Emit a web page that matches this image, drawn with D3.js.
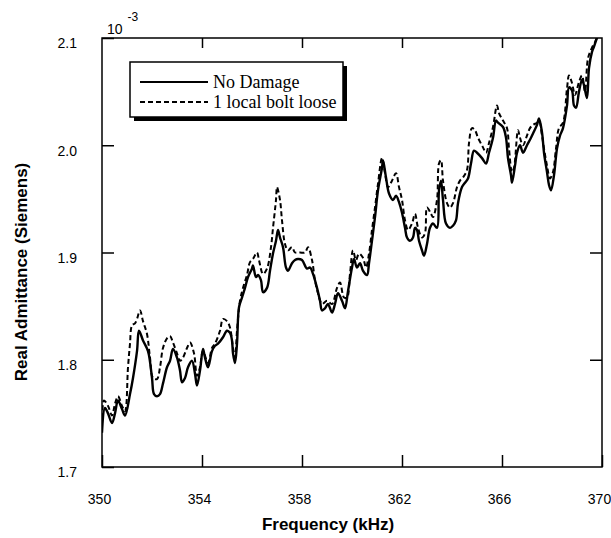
<!DOCTYPE html>
<html>
<head>
<meta charset="utf-8">
<script src="https://cdn.jsdelivr.net/npm/d3@7"></script>
<style>
  body { margin: 0; background: #fff; }
  .axis text { font-family: "Liberation Sans", Arial, sans-serif; font-size: 14px; fill: #000; }
  .axis line { stroke: #000; stroke-width: 1.5; }
  .axis .domain { display: none; }
</style>
</head>
<body>
<script>
// frequency (kHz) and real admittance (x 10^-3 S), no damage
var freqNoDamage = [350.00,350.12,350.24,350.40,350.52,350.64,350.80,350.92,351.12,351.24,351.40,351.48,351.64,351.84,352.00,352.08,352.20,352.32,352.44,352.60,352.72,352.84,353.00,353.12,353.20,353.32,353.44,353.60,353.72,353.80,353.92,354.04,354.12,354.24,354.40,354.52,354.64,354.84,355.00,355.12,355.20,355.24,355.32,355.40,355.48,355.60,355.72,355.84,356.00,356.04,356.16,356.24,356.36,356.44,356.60,356.72,356.84,356.96,357.04,357.12,357.24,357.36,357.44,357.60,357.72,357.84,358.00,358.20,358.32,358.44,358.60,358.72,358.80,358.92,359.04,359.20,359.32,359.44,359.60,359.72,359.84,360.00,360.08,360.20,360.32,360.44,360.60,360.68,360.80,360.92,361.04,361.20,361.24,361.36,361.48,361.64,361.76,361.88,362.00,362.12,362.20,362.32,362.44,362.52,362.60,362.68,362.80,362.88,363.00,363.12,363.24,363.40,363.48,363.56,363.64,363.76,363.92,364.04,364.16,364.24,364.40,364.52,364.64,364.76,364.88,365.00,365.20,365.36,365.48,365.64,365.76,365.84,366.04,366.16,366.24,366.36,366.40,366.52,366.60,366.72,366.84,367.00,367.16,367.24,367.40,367.48,367.60,367.68,367.80,367.88,367.96,368.08,368.20,368.32,368.44,368.60,368.68,368.80,368.88,368.96,369.08,369.20,369.28,369.40,369.48,369.60,369.68,369.80,369.92];
var noDamage = [1.732,1.755,1.750,1.741,1.750,1.762,1.754,1.748,1.768,1.783,1.808,1.827,1.818,1.808,1.783,1.768,1.766,1.768,1.778,1.793,1.799,1.810,1.802,1.790,1.779,1.783,1.793,1.799,1.787,1.776,1.790,1.810,1.802,1.793,1.808,1.813,1.815,1.821,1.827,1.825,1.818,1.806,1.797,1.815,1.849,1.858,1.867,1.877,1.885,1.888,1.877,1.879,1.874,1.863,1.867,1.883,1.899,1.911,1.921,1.914,1.905,1.886,1.883,1.890,1.893,1.894,1.893,1.885,1.886,1.880,1.867,1.855,1.846,1.848,1.852,1.844,1.852,1.862,1.855,1.848,1.864,1.886,1.894,1.886,1.890,1.883,1.879,1.890,1.911,1.933,1.958,1.979,1.986,1.970,1.955,1.949,1.953,1.947,1.937,1.923,1.914,1.911,1.914,1.923,1.921,1.911,1.902,1.897,1.908,1.923,1.927,1.923,1.958,1.967,1.949,1.927,1.923,1.925,1.930,1.946,1.961,1.965,1.969,1.983,1.995,1.993,1.988,1.983,1.993,2.007,2.023,2.021,2.017,2.007,1.988,1.972,1.965,1.981,1.993,2.000,1.993,2.000,2.007,2.011,2.019,2.025,2.012,1.993,1.975,1.963,1.958,1.972,1.997,2.009,2.016,2.037,2.054,2.051,2.037,2.035,2.050,2.061,2.056,2.044,2.072,2.087,2.092,2.100,2.106];

// 1 local bolt loose
var freqBoltLoose = [350.00,350.08,350.24,350.40,350.52,350.64,350.80,350.92,351.04,351.12,351.20,351.32,351.40,351.52,351.64,351.80,351.92,352.04,352.20,352.32,352.44,352.60,352.72,352.84,353.00,353.12,353.24,353.40,353.52,353.68,353.80,353.92,354.04,354.24,354.40,354.52,354.72,354.84,355.00,355.12,355.24,355.32,355.40,355.52,355.64,355.80,355.92,356.04,356.20,356.28,356.44,356.60,356.76,356.84,356.96,357.00,357.12,357.20,357.32,357.44,357.60,357.72,357.92,358.12,358.24,358.40,358.52,358.64,358.80,359.00,359.20,359.40,359.52,359.68,359.80,359.92,360.04,360.16,360.28,360.44,360.56,360.68,360.80,360.92,361.04,361.20,361.32,361.44,361.60,361.76,361.88,362.00,362.12,362.24,362.40,362.52,362.64,362.80,362.92,363.00,363.16,363.24,363.40,363.48,363.56,363.64,363.80,363.92,364.04,364.20,364.32,364.44,364.60,364.68,364.80,364.92,365.04,365.24,365.36,365.48,365.64,365.80,365.88,366.04,366.20,366.28,366.40,366.48,366.64,366.72,366.84,367.00,367.12,367.24,367.40,367.48,367.60,367.68,367.80,367.92,368.04,368.16,368.28,368.44,368.60,368.68,368.80,368.92,369.08,369.20,369.32,369.44,369.60,369.72,369.84];
var boltLoose = [1.738,1.762,1.757,1.748,1.759,1.766,1.757,1.752,1.793,1.815,1.832,1.834,1.838,1.846,1.836,1.824,1.802,1.783,1.782,1.793,1.811,1.820,1.822,1.816,1.806,1.799,1.802,1.811,1.816,1.806,1.785,1.793,1.808,1.797,1.811,1.815,1.827,1.838,1.836,1.830,1.811,1.802,1.827,1.855,1.867,1.879,1.891,1.894,1.900,1.893,1.880,1.885,1.905,1.923,1.949,1.961,1.949,1.930,1.908,1.902,1.905,1.900,1.900,1.900,1.905,1.893,1.874,1.862,1.852,1.855,1.852,1.867,1.872,1.858,1.858,1.880,1.902,1.893,1.899,1.895,1.886,1.899,1.921,1.942,1.964,1.988,1.974,1.961,1.967,1.974,1.961,1.949,1.930,1.921,1.927,1.936,1.923,1.914,1.918,1.942,1.936,1.933,1.949,1.983,1.986,1.967,1.946,1.942,1.946,1.961,1.967,1.970,1.977,2.002,2.016,2.014,2.007,1.998,1.993,2.002,2.017,2.037,2.030,2.023,2.016,1.997,1.975,1.979,2.014,2.007,2.000,2.009,2.016,2.019,2.021,2.023,2.009,1.997,1.981,1.969,1.975,1.997,2.016,2.021,2.053,2.065,2.058,2.047,2.059,2.065,2.050,2.081,2.091,2.096,2.105];

var xTicks = [350, 354, 358, 362, 366, 370];
var yTicks = [1.7, 1.8, 1.9, 2.0, 2.1];
var legendLabels = ["No Damage", "1 local bolt loose"];

var w = 611, h = 538;
// plot box edges (not "top", which is taken by window.top)
var boxL = 102, boxR = 602, boxT = 38, boxB = 467;

var svg = d3.select("body").append("svg")
    .attr("width", w)
    .attr("height", h);

var x = d3.scaleLinear().domain([350, 370]).range([boxL, boxR]);
var y = d3.scaleLinear().domain([1.7, 2.1]).range([boxB, boxT]);

// clip the curves to the plot box
svg.append("clipPath").attr("id", "plot")
  .append("rect")
    .attr("x", boxL).attr("y", boxT)
    .attr("width", boxR - boxL).attr("height", boxB - boxT);

var line = d3.line()
    .x(function(d) { return x(d[0]); })
    .y(function(d) { return y(d[1]); })
    .curve(d3.curveCatmullRom.alpha(0.5));

var solidPts = d3.zip(freqNoDamage, noDamage);
var dashPts = d3.zip(freqBoltLoose, boltLoose);

var curves = svg.append("g").attr("clip-path", "url(#plot)");
curves.append("path")
    .attr("d", line(dashPts))
    .attr("fill", "none")
    .attr("stroke", "#000")
    .attr("stroke-width", 2)
    .attr("stroke-dasharray", "5,3");
curves.append("path")
    .attr("d", line(solidPts))
    .attr("fill", "none")
    .attr("stroke", "#000")
    .attr("stroke-width", 2.4);

// axes, ticks pointing inward
svg.append("g").attr("class", "axis")
    .attr("transform", "translate(0," + boxB + ")")
    .call(d3.axisBottom(x).tickValues(xTicks).tickSize(-12).tickPadding(27))
  .selectAll("text").attr("dx", "-3");

svg.append("g").attr("class", "axis")
    .attr("transform", "translate(0," + boxT + ")")
    .call(d3.axisTop(x).tickValues(xTicks.slice(1, -1)).tickSize(-10).tickFormat(""));

svg.append("g").attr("class", "axis")
    .attr("transform", "translate(" + boxL + ",0)")
    .call(d3.axisLeft(y).tickValues(yTicks).tickSize(-12).tickPadding(25).tickFormat(d3.format(".1f")))
  .selectAll("text").attr("dy", "0.7em");

svg.append("g").attr("class", "axis")
    .attr("transform", "translate(" + boxR + ",0)")
    .call(d3.axisRight(y).tickValues(yTicks.slice(1, -1)).tickSize(-12).tickFormat(""));

svg.append("rect")
    .attr("x", boxL).attr("y", boxT)
    .attr("width", boxR - boxL).attr("height", boxB - boxT)
    .attr("fill", "none")
    .attr("stroke", "#000")
    .attr("stroke-width", 1.5);

// exponent label
var expo = svg.append("text")
    .attr("x", 107).attr("y", 34)
    .style("font-family", "Liberation Sans, Arial, sans-serif")
    .style("font-size", "14px");
expo.append("tspan").text("10");
expo.append("tspan").attr("dx", 5).attr("dy", -13).style("font-size", "12px").text("-3");

// axis titles
svg.append("text")
    .attr("x", 328).attr("y", 530)
    .attr("text-anchor", "middle")
    .style("font-family", "Liberation Sans, Arial, sans-serif")
    .style("font-size", "17px")
    .style("font-weight", "bold")
    .text("Frequency (kHz)");

svg.append("text")
    .attr("transform", "translate(27,272) rotate(-90)")
    .attr("text-anchor", "middle")
    .style("font-family", "Liberation Sans, Arial, sans-serif")
    .style("font-size", "17px")
    .style("font-weight", "bold")
    .text("Real Admittance (Siemens)");

// legend box with drop shadow
var lg = svg.append("g");
lg.append("rect")
    .attr("x", 134).attr("y", 66)
    .attr("width", 213).attr("height", 55)
    .attr("fill", "#000");
lg.append("rect")
    .attr("x", 130).attr("y", 62)
    .attr("width", 213).attr("height", 55)
    .attr("fill", "#fff")
    .attr("stroke", "#000")
    .attr("stroke-width", 1.5);

lg.selectAll(".key")
    .data(legendLabels)
    .enter()
    .append("line")
    .attr("x1", 140).attr("x2", 208)
    .attr("y1", function(d, i) { return 82 + i * 20; })
    .attr("y2", function(d, i) { return 82 + i * 20; })
    .attr("stroke", "#000")
    .attr("stroke-width", function(d, i) { return i ? 1.8 : 2; })
    .attr("stroke-dasharray", function(d, i) { return i ? "5,3" : null; });

lg.selectAll(".lbl")
    .data(legendLabels)
    .enter()
    .append("text")
    .attr("x", 213)
    .attr("y", function(d, i) { return 88 + i * 20; })
    .style("font-family", "Liberation Serif, Times New Roman, serif")
    .style("font-size", "18px")
    .text(function(d) { return d; });
</script>
</body>
</html>
